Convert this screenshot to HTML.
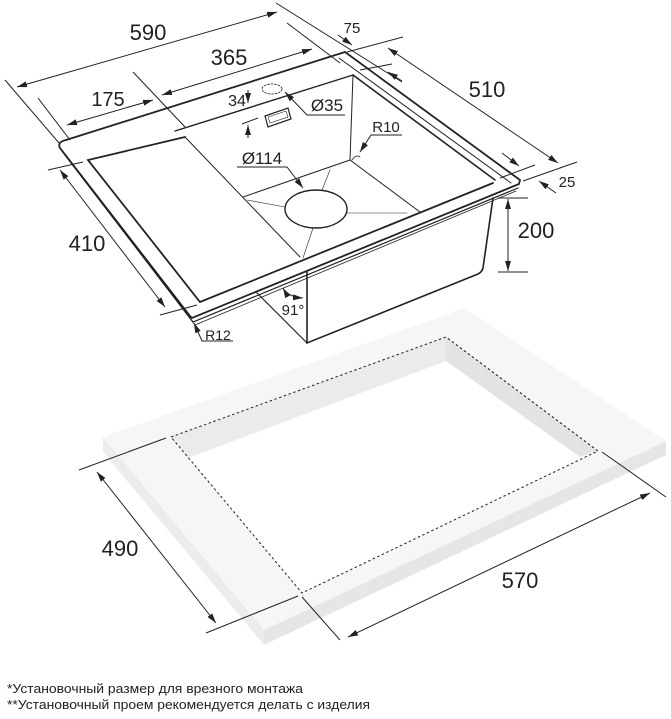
<!DOCTYPE html>
<html><head><meta charset="utf-8"><style>
html,body{margin:0;padding:0;background:#fff;}
svg{display:block;font-family:"Liberation Sans",sans-serif;}
</style></head><body>
<svg width="671" height="719" viewBox="0 0 671 719" xmlns="http://www.w3.org/2000/svg">
<defs>
<marker id="a" viewBox="0 0 10 6" refX="10" refY="3" markerWidth="10" markerHeight="6" orient="auto-start-reverse" markerUnits="userSpaceOnUse"><path d="M0,0 L10,3 L0,6 Z" fill="#222"/></marker>
</defs>

<!-- countertop slab -->
<polygon points="103,437 103,452 264,645 264,630" fill="#ececec"/>
<polygon points="264,630 264,645 666,455 666,441" fill="#e6e6e6"/>
<polygon points="103,437 465,308 666,441 264,630" fill="#f6f6f6"/>
<!-- hole -->
<polygon points="171,437 446,337 598,451 302,593" fill="#ffffff"/>
<polygon points="171,437 446,337 446,361 188,458" fill="#ebebeb"/>
<polygon points="446,337 598,451 580,457 446,361" fill="#e3e3e3"/>
<polygon points="171,437 446,337 598,451 302,593" fill="none" stroke="#222" stroke-width="1" stroke-dasharray="2.5,2.5"/>

<g stroke="#222" stroke-width="1" fill="none">
<!-- 490 -->
<line x1="79" y1="470" x2="166" y2="438"/>
<line x1="206" y1="633" x2="298" y2="596"/>
<line x1="97" y1="472" x2="216" y2="623" marker-start="url(#a)" marker-end="url(#a)"/>
<!-- 570 -->
<line x1="302" y1="597" x2="340" y2="640"/>
<line x1="602" y1="452" x2="666" y2="497"/>
<line x1="348" y1="637" x2="650" y2="493" marker-start="url(#a)" marker-end="url(#a)"/>
</g>
<text x="120" y="556" font-size="22" text-anchor="middle" fill="#222">490</text>
<text x="520" y="588" font-size="22" text-anchor="middle" fill="#222">570</text>

<!-- SINK -->
<g stroke="#222" fill="none" stroke-linecap="round">
<!-- bowl underside -->
<path d="M493,198 L483,268 Q482,272 478,274 L307,343 L307,272" stroke-width="1.6" fill="#fff"/>
<line x1="257" y1="293" x2="307" y2="343" stroke-width="1.2"/>
<!-- rim outer -->
<path d="M66,140 L345,52 L520,180 L519,184 L192,318 L190,316 L60,148 Q57,142 66,140 Z" stroke-width="1.8" fill="#fff"/>
<path d="M62,151 L193,322 L518,188" stroke-width="1.2"/>
<path d="M64,154 L195,325 L516,191" stroke-width="0.8"/>
<line x1="339" y1="58" x2="511" y2="183" stroke-width="1"/>
<!-- drainer -->
<path d="M185,137 L88,160 L200,302 L493,183" stroke-width="1.8"/>
<!-- bowl top edges -->
<line x1="175" y1="131" x2="353" y2="75" stroke-width="1.4"/>
<line x1="353" y1="75" x2="495" y2="180" stroke-width="1.6"/>
<line x1="185" y1="137" x2="300" y2="257" stroke-width="1"/>
<line x1="353" y1="75" x2="350" y2="160" stroke-width="1"/>
<line x1="243" y1="197" x2="350" y2="160" stroke-width="1"/>
<line x1="350" y1="160" x2="420" y2="212" stroke-width="1"/>
<!-- drain lines -->
<g stroke-width="0.6">
<line x1="247" y1="200" x2="285" y2="207"/>
<line x1="330" y1="170" x2="322" y2="190"/>
<line x1="313" y1="228" x2="303" y2="258"/>
<line x1="347" y1="213" x2="407" y2="213"/>
</g>
<ellipse cx="316" cy="209" rx="31" ry="19" stroke-width="1.4" fill="#fff"/>
<!-- Ø35 dashed -->
<ellipse cx="272" cy="89" rx="10" ry="5" stroke-width="0.8" stroke-dasharray="2,1.5"/>
<!-- button -->
<polygon points="265,116 288,108 291,119 268,127" stroke-width="1.2"/>
<polygon points="268,117 286,111 288,117 270,123" stroke-width="0.6"/>
<!-- R10 arc -->
<path d="M352,160 Q356,154 360,157" stroke-width="0.8"/>
</g>

<!-- dimensions top -->
<g stroke="#222" stroke-width="1" fill="none">
<!-- 590 -->
<line x1="5" y1="80" x2="59" y2="143"/>
<line x1="276" y1="3" x2="402" y2="82"/>
<line x1="17" y1="87" x2="277" y2="12" marker-start="url(#a)" marker-end="url(#a)"/>
<!-- 365 -->
<line x1="133" y1="72" x2="185" y2="127"/>
<line x1="287" y1="23" x2="340" y2="63"/>
<line x1="162" y1="95" x2="312" y2="49" marker-start="url(#a)" marker-end="url(#a)"/>
<!-- 175 -->
<line x1="38" y1="98" x2="70" y2="140"/>
<line x1="67" y1="125" x2="153" y2="100" marker-start="url(#a)" marker-end="url(#a)"/>
<!-- 75 -->
<line x1="347" y1="52" x2="403" y2="37"/>
<line x1="360" y1="70" x2="392" y2="64"/>
<line x1="338" y1="35" x2="352" y2="45" marker-end="url(#a)"/>
<line x1="402" y1="81" x2="388" y2="72" marker-end="url(#a)"/>
<!-- 510 -->
<line x1="523" y1="181" x2="577" y2="162"/>
<line x1="388" y1="48" x2="558" y2="163" marker-start="url(#a)" marker-end="url(#a)"/>
<!-- 25 -->
<line x1="500" y1="178" x2="535" y2="165"/>
<line x1="502" y1="153" x2="519" y2="166" marker-end="url(#a)"/>
<line x1="556" y1="193" x2="539" y2="181" marker-end="url(#a)"/>
<!-- 200 -->
<line x1="498" y1="198" x2="528" y2="198"/>
<line x1="498" y1="272" x2="528" y2="272"/>
<line x1="508" y1="199" x2="508" y2="271" marker-start="url(#a)" marker-end="url(#a)"/>
<!-- 410 -->
<line x1="48" y1="170" x2="83" y2="162"/>
<line x1="160" y1="315" x2="197" y2="305"/>
<line x1="60" y1="170" x2="165" y2="307" marker-start="url(#a)" marker-end="url(#a)"/>
<!-- R12 -->
<polyline points="233,341 202,341 194,323" marker-end="url(#a)"/>
<!-- 91 -->
<path d="M283,288 Q288,297 303,298" marker-start="url(#a)" marker-end="url(#a)"/>
<!-- 34 -->
<line x1="248" y1="90" x2="248" y2="103" marker-end="url(#a)"/>
<line x1="248" y1="138" x2="248" y2="125" marker-end="url(#a)"/>
<line x1="242" y1="124" x2="258" y2="118"/>
<!-- Ø35 -->
<polyline points="345,115 307,115 285,92" marker-end="url(#a)"/>
<!-- Ø114 -->
<polyline points="237,167 287,167 303,188" marker-end="url(#a)"/>
<!-- R10 -->
<polyline points="402,135 371,135 360,152" marker-end="url(#a)"/>
</g>

<g fill="#222" text-anchor="middle">
<text x="148" y="40" font-size="22">590</text>
<text x="229" y="65" font-size="22">365</text>
<text x="108" y="106" font-size="20">175</text>
<text x="352" y="33" font-size="15">75</text>
<text x="487" y="97" font-size="22">510</text>
<text x="567" y="187" font-size="15">25</text>
<text x="536" y="238" font-size="22">200</text>
<text x="87" y="251" font-size="22">410</text>
<text x="218" y="340" font-size="14">R12</text>
<text x="293" y="315" font-size="15">91°</text>
<text x="237" y="106" font-size="16">34</text>
<text x="327" y="111" font-size="17">Ø35</text>
<text x="262" y="164" font-size="17">Ø114</text>
<text x="386" y="132" font-size="15">R10</text>
</g>

<g fill="#222" font-size="12.5" font-family="Liberation Sans, DejaVu Sans, sans-serif">
<text x="7" y="693" textLength="296" lengthAdjust="spacingAndGlyphs">*Установочный размер для врезного монтажа</text>
<text x="7" y="709" textLength="363" lengthAdjust="spacingAndGlyphs">**Установочный проем рекомендуется делать с изделия</text>
</g>
</svg>
</body></html>
